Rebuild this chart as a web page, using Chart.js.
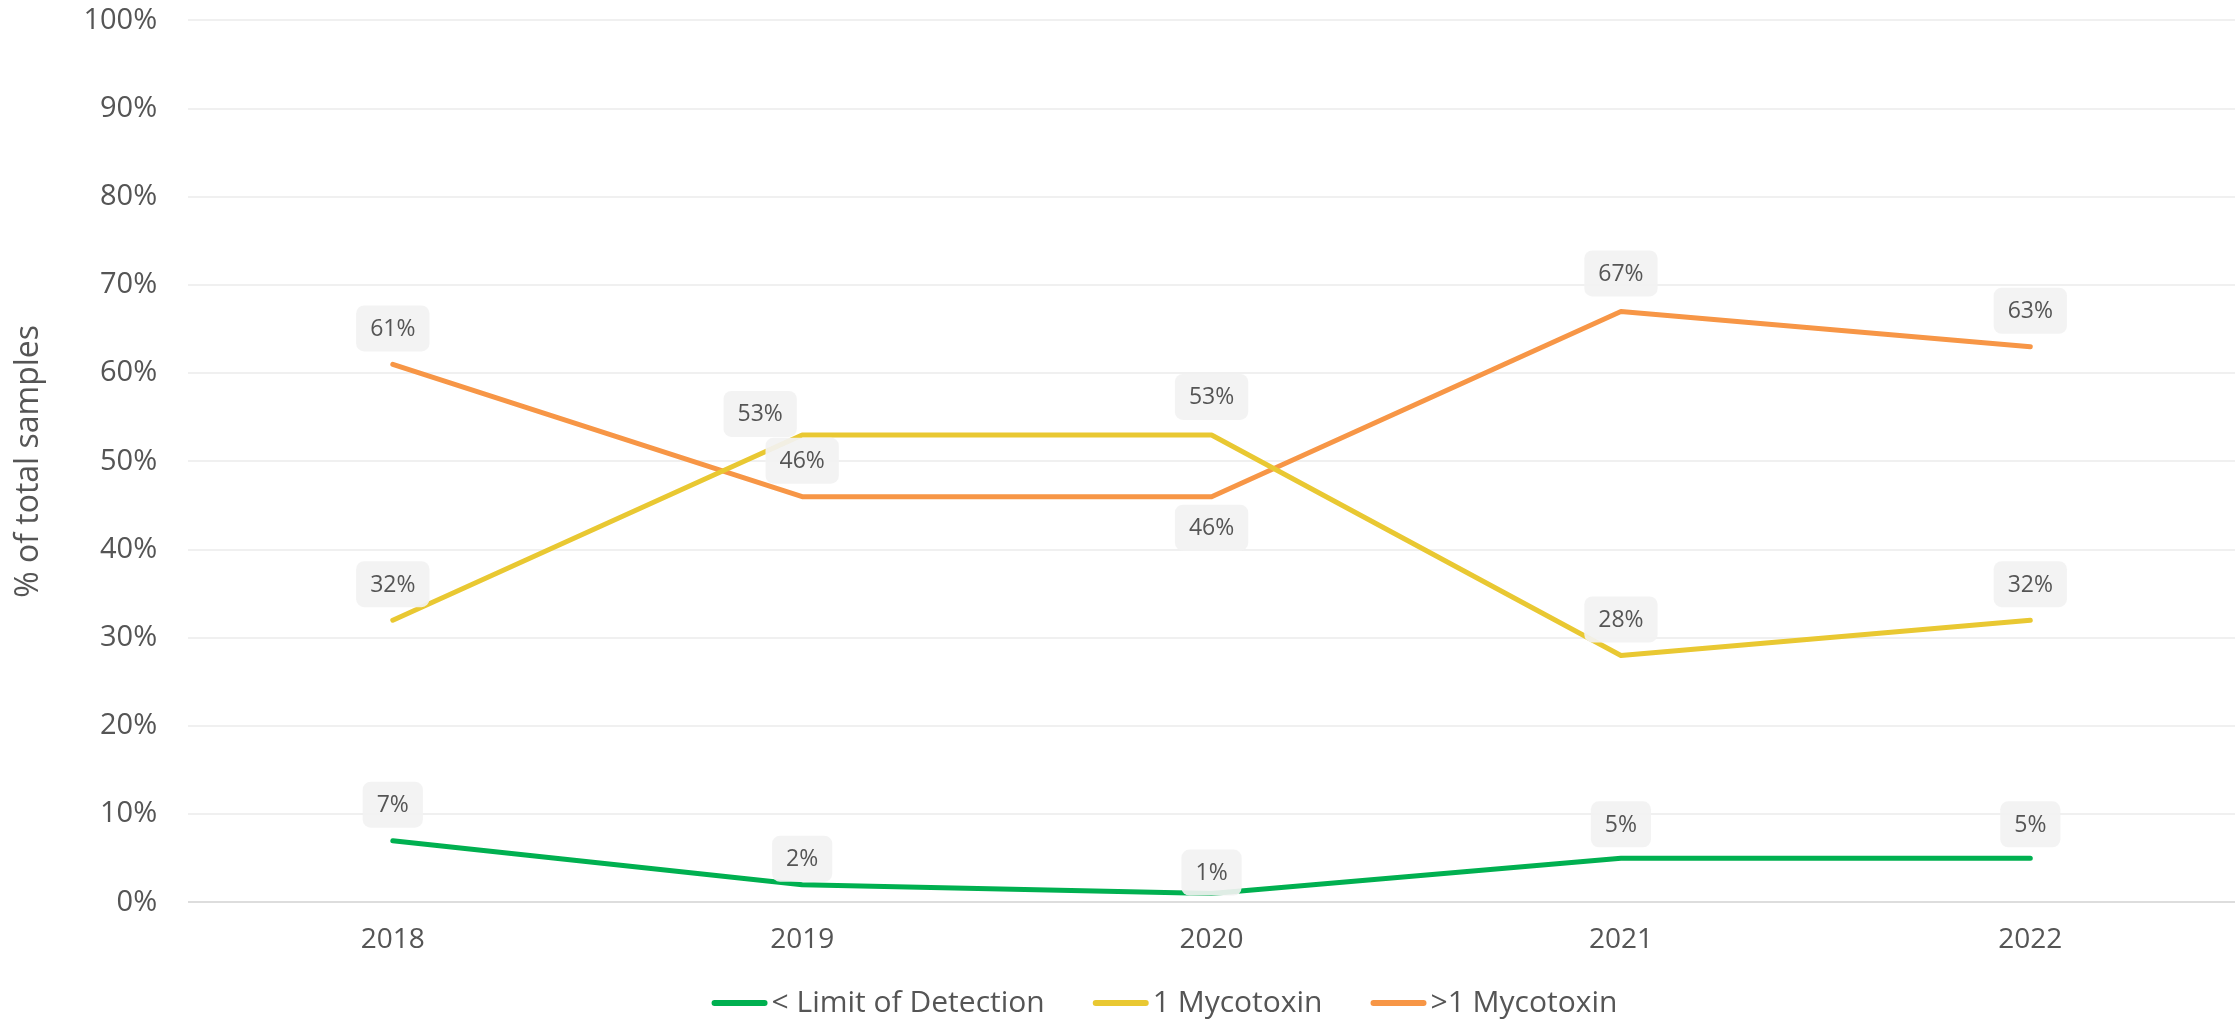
<!DOCTYPE html>
<html>
<head>
<meta charset="utf-8">
<script src="https://cdn.jsdelivr.net/npm/chart.js@4.4.0/dist/chart.umd.min.js"></script>
<style>
  html, body { margin: 0; padding: 0; background: #fff; }
  #wrap { width: 2239px; height: 1019px; position: relative; }
</style>
</head>
<body>
<div id="wrap"><canvas id="myChart"></canvas></div>
<script>
// Dữ liệu biểu đồ
const years = ["2018", "2019", "2020", "2021", "2022"];
const belowLod = [7, 2, 1, 5, 5];
const oneMyco = [32, 53, 53, 28, 32];
const moreMyco = [61, 46, 46, 67, 63];

const seriesNames = ["< Limit of Detection", "1 Mycotoxin", ">1 Mycotoxin"];
const seriesColors = ["#00b050", "#e9c832", "#f79646"];

// Vị trí nhãn: dx lệch ngang, dy âm = phía trên điểm
const labelShift = [
  [[0, -36], [0, -26], [0, -21], [0, -34], [0, -34]],
  [[0, -36], [-42, -21], [0, -38], [0, -36], [0, -36]],
  [[0, -36], [0, -36], [0, 31], [0, -38], [0, -36]]
];

const textColor = "#555555";
const fontFamily = "'Open Sans', 'Noto Sans', sans-serif";

// Plugin vẽ nhãn giá trị có nền bo góc
const valueLabels = {
  id: "valueLabels",
  afterDatasetsDraw(chart) {
    const ctx = chart.ctx;
    ctx.save();
    ctx.font = "23px " + fontFamily;
    ctx.textAlign = "center";
    ctx.textBaseline = "middle";
    chart.data.datasets.forEach((ds, i) => {
      const meta = chart.getDatasetMeta(i);
      meta.data.forEach((pt, j) => {
        const txt = ds.data[j] + "%";
        const s = labelShift[i][j];
        const x = pt.x + s[0];
        const y = pt.y + s[1];
        const w = ctx.measureText(txt).width + 28;
        const h = 46;
        ctx.fillStyle = "rgba(242,242,242,0.92)";
        ctx.beginPath();
        ctx.roundRect(x - w / 2, y - h / 2, w, h, 8);
        ctx.fill();
        ctx.fillStyle = textColor;
        ctx.fillText(txt, x, y + 1);
      });
    });
    ctx.restore();
  }
};

// Plugin vẽ chú thích ở dưới
const bottomLegend = {
  id: "bottomLegend",
  afterDraw(chart) {
    const ctx = chart.ctx;
    const lineW = 56, gap = 4, itemGap = 48;
    ctx.save();
    ctx.font = "30px " + fontFamily;
    ctx.textBaseline = "middle";
    ctx.textAlign = "left";
    const items = chart.data.datasets.map((ds) => ({
      text: ds.label,
      color: ds.borderColor,
      w: ctx.measureText(ds.label).width
    }));
    let total = 0;
    items.forEach((it, k) => {
      total += lineW + gap + it.w + (k < items.length - 1 ? itemGap : 0);
    });
    const y = 1003;
    let x = chart.width / 2 + 45 - total / 2;
    items.forEach((it) => {
      ctx.strokeStyle = it.color;
      ctx.lineWidth = 6;
      ctx.lineCap = "round";
      ctx.beginPath();
      ctx.moveTo(x + 3, y);
      ctx.lineTo(x + lineW - 3, y);
      ctx.stroke();
      ctx.fillStyle = textColor;
      ctx.fillText(it.text, x + lineW + gap, y);
      x += lineW + gap + it.w + itemGap;
    });
    ctx.restore();
  }
};

function makeDataset(label, data, color) {
  return {
    label: label,
    data: data,
    borderColor: color,
    backgroundColor: color,
    borderWidth: 5,
    borderCapStyle: "round",
    borderJoinStyle: "round",
    pointRadius: 0,
    pointHoverRadius: 0,
    tension: 0,
    fill: false
  };
}

const ctx = document.getElementById("myChart").getContext("2d");
new Chart(ctx, {
  type: "line",
  data: {
    labels: years,
    datasets: [
      makeDataset(seriesNames[0], belowLod, seriesColors[0]),
      makeDataset(seriesNames[1], oneMyco, seriesColors[1]),
      makeDataset(seriesNames[2], moreMyco, seriesColors[2])
    ]
  },
  options: {
    responsive: true,
    maintainAspectRatio: false,
    animation: false,
    layout: { padding: { top: 7, right: 4, left: 6, bottom: 41 } },
    plugins: {
      tooltip: { enabled: false },
      legend: { display: false }
    },
    scales: {
      x: {
        offset: true,
        grid: { display: false, drawTicks: false },
        border: { display: false },
        ticks: {
          color: textColor,
          font: { family: fontFamily, size: 28 },
          padding: 21
        }
      },
      y: {
        min: 0,
        max: 100,
        ticks: {
          stepSize: 10,
          color: textColor,
          font: { family: fontFamily, size: 29 },
          padding: 3,
          callback: (v) => v + "%"
        },
        grid: {
          color: (c) => (c.tick && c.tick.value === 0 ? "#dddddd" : "#f0f0f0"),
          lineWidth: 2,
          drawTicks: true,
          tickLength: 28,
          tickColor: "rgba(0,0,0,0)"
        },
        border: { display: false },
        title: {
          display: true,
          text: "% of total samples",
          color: textColor,
          font: { family: fontFamily, size: 32 },
          padding: { top: 4, bottom: 32 }
        }
      }
    }
  },
  plugins: [valueLabels, bottomLegend]
});
</script>
</body>
</html>
